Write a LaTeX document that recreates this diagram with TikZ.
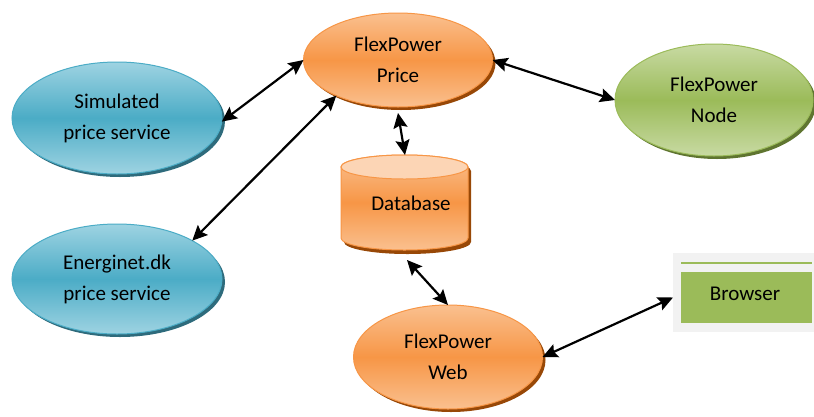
\documentclass[tikz,border=0pt]{standalone}
\usepackage{fontspec}
\setmainfont{Carlito}
\usetikzlibrary{shapes.geometric,arrows.meta,shadows}
\definecolor{bluemid}{HTML}{4BACC6}
\definecolor{bluelight}{HTML}{9ED3E2}
\definecolor{blueshadow}{HTML}{2E6B7C}
\definecolor{orangemid}{HTML}{F79646}
\definecolor{orangelight}{HTML}{FAC08F}
\definecolor{orangepale}{HTML}{FCD5B5}
\definecolor{orangeshadow}{HTML}{984807}
\definecolor{greenmid}{HTML}{9BBB59}
\definecolor{greenlight}{HTML}{C8DAA3}
\definecolor{greenshadow}{HTML}{5F7530}
\definecolor{browserbg}{HTML}{F2F2F2}
\tikzset{
  txt/.style={font=\fontsize{21}{31}\selectfont, align=center, text=black},
  oval/.style={ellipse, inner sep=0pt, outer sep=0pt, txt},
  blueoval/.style={oval, draw=bluemid, line width=1pt,
     top color=bluelight, bottom color=bluelight, middle color=bluemid,
     drop shadow={shadow xshift=3pt, shadow yshift=-3pt, opacity=1, fill=blueshadow}},
  orangeoval/.style={oval, draw=orangemid, line width=1pt,
     top color=orangelight, bottom color=orangelight, middle color=orangemid,
     drop shadow={shadow xshift=3pt, shadow yshift=-3pt, opacity=1, fill=orangeshadow}},
  greenoval/.style={oval, draw=greenmid, line width=1pt,
     top color=greenlight, bottom color=greenlight, middle color=greenmid,
     drop shadow={shadow xshift=3pt, shadow yshift=-3pt, opacity=1, fill=greenshadow}},
  biarrow/.style={line width=2.2pt, draw=black,
     {Stealth[length=15pt,width=14pt,inset=2.5pt]}-{Stealth[length=15pt,width=14pt,inset=2.5pt]}},
}
\begin{document}
\begin{tikzpicture}[x=1pt, y=-1pt]
\useasboundingbox[fill=white] (0,0) rectangle (814,416);

% ellipses
\node[blueoval, minimum width=210pt, minimum height=112pt] (sim) at (117,118) {Simulated\\price service};
\node[blueoval, minimum width=210pt, minimum height=110pt] (ener) at (117,279) {Energinet.dk\\price service};
\node[orangeoval, minimum width=189pt, minimum height=94pt] (price) at (398,60) {FlexPower\\Price};
\node[greenoval, minimum width=198pt, minimum height=112pt] (fnode) at (714,100) {FlexPower\\Node};
\node[orangeoval, minimum width=189pt, minimum height=104pt] (web) at (448,357) {FlexPower\\Web};

% database cylinder
\path[fill=orangeshadow, shift={(3,4)}] (341,167) -- (341,238) arc[start angle=180, end angle=0, x radius=63.5, y radius=12]
  -- (468,167) arc[start angle=0, end angle=-180, x radius=63.5, y radius=12] -- cycle;
\path[draw=orangemid, line width=1pt, top color=orangelight, bottom color=orangelight, middle color=orangemid]
  (341,167) -- (341,238) arc[start angle=180, end angle=0, x radius=63.5, y radius=12]
  -- (468,167) arc[start angle=0, end angle=-180, x radius=63.5, y radius=12] -- cycle;
\draw[draw=orangemid, line width=1pt, fill=orangepale] (404.5,167) ellipse[x radius=63.5, y radius=12];
\node[minimum width=127pt, minimum height=95pt, inner sep=0pt, outer sep=0pt] (db) at (404.5,202.5) {};
\node[txt] (dbt) at (411,203) {Database};

% browser
\node[fill=browserbg, minimum width=141pt, minimum height=79pt, inner sep=0pt, outer sep=0pt, anchor=north west] (bro) at (673,253) {};
\draw[greenmid, line width=2pt] (681,263) -- (812,263);
\fill[greenmid] (681,272) rectangle (812,323);
\node[txt] (brot) at (745,294) {Browser};

% connectors
\draw[biarrow] (sim.-2) -- (price.west);
\draw[biarrow] (ener.27.5) -- (price.210);
\draw[biarrow] (price.east) -- (fnode.west);
\draw[biarrow] ([yshift=-6pt]price.south) -- ([xshift=0.5pt]db.north);
\draw[biarrow] ([xshift=2.5pt,yshift=-10pt]db.south) -- (web.north);
\draw[biarrow] (web.east) -- ([yshift=-5pt]bro.west);
\end{tikzpicture}
\end{document}
